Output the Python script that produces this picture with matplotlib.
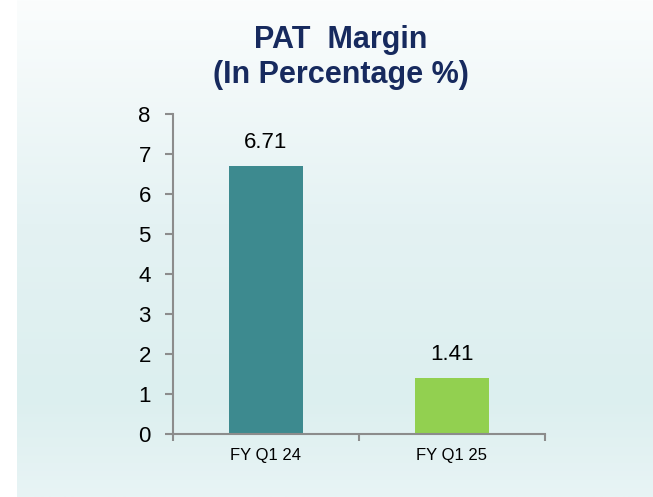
import numpy as np
import matplotlib.pyplot as plt
from matplotlib.colors import LinearSegmentedColormap

categories = ["FY Q1 24", "FY Q1 25"]
values = [6.71, 1.41]
bar_colors = ["#3d8a8f", "#92d050"]
yticks = [0, 1, 2, 3, 4, 5, 6, 7, 8]

plt.rcParams['font.family'] = ['Liberation Sans', 'DejaVu Sans']

fig = plt.figure(figsize=(6.53, 4.97), dpi=100)
fig.patch.set_facecolor("white")

# background panel with soft vertical gradient
bg = fig.add_axes([17 / 653, 0, 1 - 17 / 653, 1])
cmap = LinearSegmentedColormap.from_list(
    "bg", [(0.0, "#e8f4f5"), (0.2, "#dcefef"), (0.55, "#e4f2f3"), (1.0, "#fbfdfd")])
grad = np.linspace(0, 1, 256).reshape(-1, 1)
bg.imshow(grad, aspect="auto", cmap=cmap, origin="lower", extent=[0, 1, 0, 1])
bg.set_axis_off()

ax = fig.add_axes([173 / 653, 1 - 434 / 497, (545 - 173) / 653, (434 - 114) / 497])
ax.set_facecolor("none")
x = np.arange(len(categories))
bars = ax.bar(x, values, width=0.395, color=bar_colors)
for b, v in zip(bars, values):
    ax.annotate(f"{v:.2f}", (b.get_x() + b.get_width() / 2, v),
                xytext=(0, 13), textcoords="offset points",
                ha="center", va="baseline", fontsize=16)

ax.set_xlim(-0.5, 1.5)
ax.set_ylim(0, 8)
ax.set_yticks(yticks)
ax.set_xticks([-0.5, 0.5, 1.5], minor=False)
ax.set_xticklabels([])
ax.set_xticks(x, minor=True)
ax.set_xticklabels(categories, minor=True, fontsize=12)
ax.tick_params(axis="x", which="minor", length=0, pad=10)
ax.tick_params(axis="x", which="major", length=5, color="#8c8c8c", width=1.5)
ax.tick_params(axis="y", length=6, color="#8c8c8c", width=1.5, labelsize=16, pad=10)
for s in ["top", "right"]:
    ax.spines[s].set_visible(False)
for s in ["left", "bottom"]:
    ax.spines[s].set_color("#8c8c8c")
    ax.spines[s].set_linewidth(1.5)

fig.text(0.522, 1 - 48 / 497, "PAT  Margin", ha="center", va="baseline", fontsize=22,
         fontweight="bold", color="#172a5e")
fig.text(0.522, 1 - 83 / 497, "(In Percentage %)", ha="center", va="baseline", fontsize=22,
         fontweight="bold", color="#172a5e")

fig.savefig("out.png", dpi=100)
